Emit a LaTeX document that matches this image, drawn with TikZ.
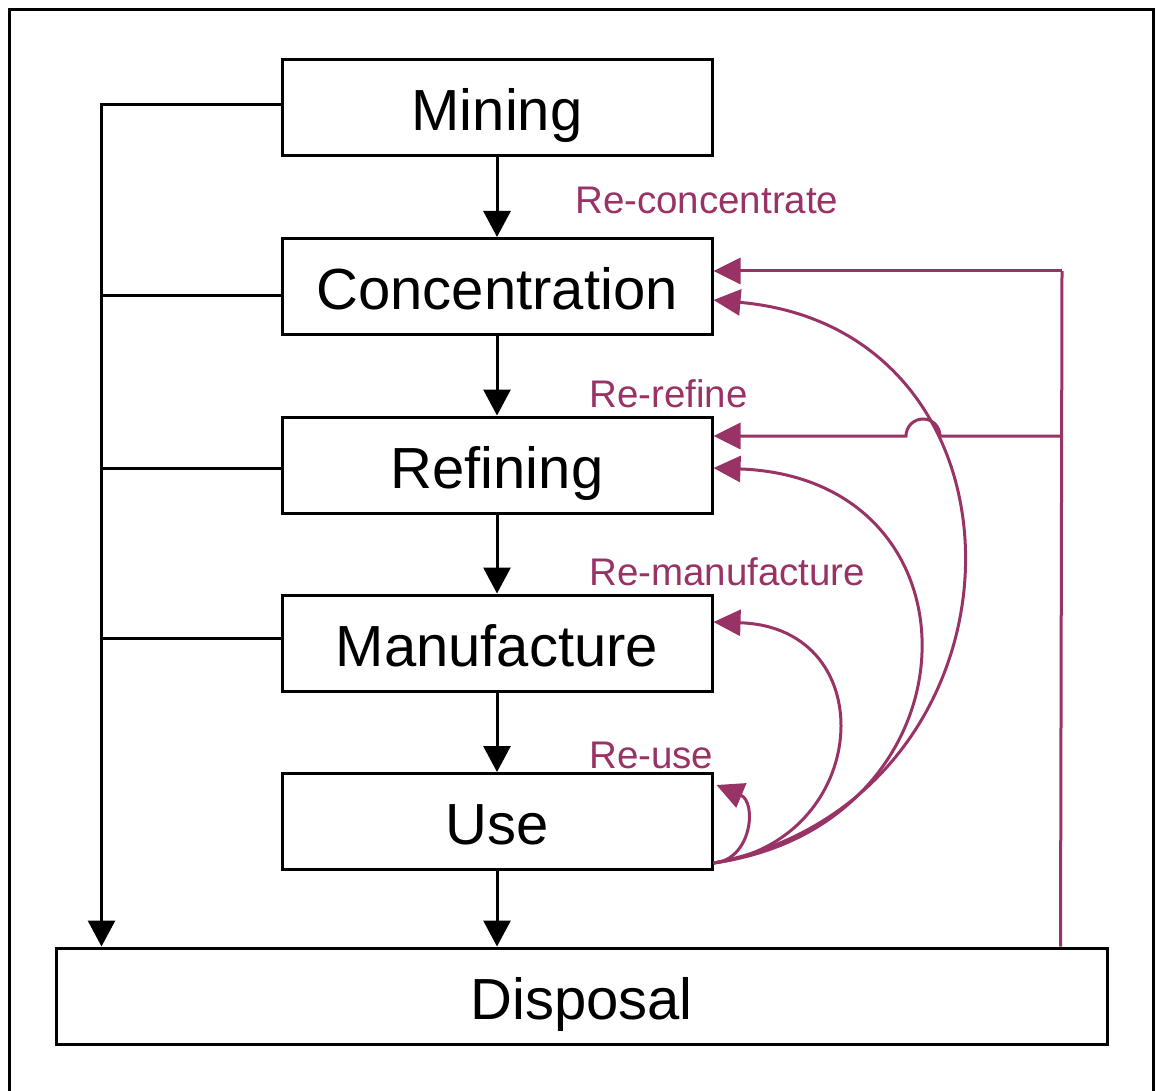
\documentclass[tikz,border=0pt]{standalone}
\usepackage{fontspec}
\setmainfont{Liberation Sans}
\usetikzlibrary{arrows.meta}
\definecolor{plum}{RGB}{153,51,102}
\begin{document}
\begin{tikzpicture}[x=1pt,y=-1pt,
  stage/.style={draw, line width=3pt, minimum width=430pt, minimum height=96pt,
    inner sep=0pt, text height=46pt, text depth=0pt,
    font=\fontsize{58}{60}\selectfont},
  flow/.style={line width=3pt, -{Triangle[length=26pt,width=27pt]}},
  feed/.style={line width=3pt},
  back/.style={plum, line width=3pt},
  backarrow/.style={back, -{Triangle[length=27pt,width=26pt]}},
  tag/.style={plum, inner sep=0pt, anchor=base west, font=\fontsize{38.5}{40}\selectfont}]
  \useasboundingbox (0,0) rectangle (1156,1091);
  % outer frame
  \draw[line width=3pt] (9,1095) -- (9,10) -- (1153,10) -- (1153,1095);

  % process stages
  \node[stage] (mine) at (497,107.5) {Mining};
  \node[stage] (conc) at (497,286.5) {Concentration};
  \node[stage] (refi) at (497,465) {Refining};
  \node[stage] (manu) at (497,643) {Manufacture};
  \node[stage] (use)  at (497,821.5) {Use};
  \node[stage, minimum width=1051pt] (disp) at (581.5,996) {Disposal};

  % main chain
  \draw[flow] (mine) -- (conc);
  \draw[flow] (conc) -- (refi);
  \draw[flow] (refi) -- (manu);
  \draw[flow] (manu) -- (use);
  \draw[flow] (use) -- (use |- disp.north);

  % losses to disposal on the left
  \coordinate (trunk) at ([xshift=47pt]disp.north west);
  \draw[flow] ([yshift=2.5pt]mine.west) -| (trunk);
  \coordinate (tc) at (103,295);
  \coordinate (tr) at (103,468);
  \coordinate (tm) at (103,638);
  \draw[feed] (tc) -- (tc -| conc.west);
  \draw[feed] (tr) -- (tr -| refi.west);
  \draw[feed] (tm) -- (tm -| manu.west);

  % recovery from disposal
  \coordinate (rx) at ([xshift=1006pt]disp.north west);
  \coordinate (rc) at (1062,271);
  \coordinate (rr) at (1062,436);
  \draw[back] (rx) -- (rc);
  \draw[backarrow] (rc) -- (rc -| conc.east);
  \draw[backarrow] (rr) -- (940,436) arc(0:-180:17) -- (rr -| refi.east);

  % recovery loops from use
  \coordinate (u0) at ([yshift=8pt]use.south east);
  \draw[backarrow] (u0) .. controls (1040,800) and (1050,330) .. ([yshift=-13.5pt]conc.east);
  \draw[backarrow] (u0) .. controls (982,825) and (992,478) .. ([yshift=-3pt]refi.east);
  \draw[backarrow] (u0) .. controls (872,842) and (885,627) .. ([yshift=21pt]manu.east);
  \draw[backarrow] (u0) .. controls (752,860) and (757,802) .. ([yshift=36.5pt,xshift=3pt]use.east);

  % loop labels
  \node[tag] (lc) at (575,214) {Re-concentrate};
  \node[tag] (lr) at (589,407) {Re-refine};
  \node[tag] (lm) at (589,585) {Re-manufacture};
  \node[tag] (lu) at (589,768) {Re-use};
\end{tikzpicture}
\end{document}
